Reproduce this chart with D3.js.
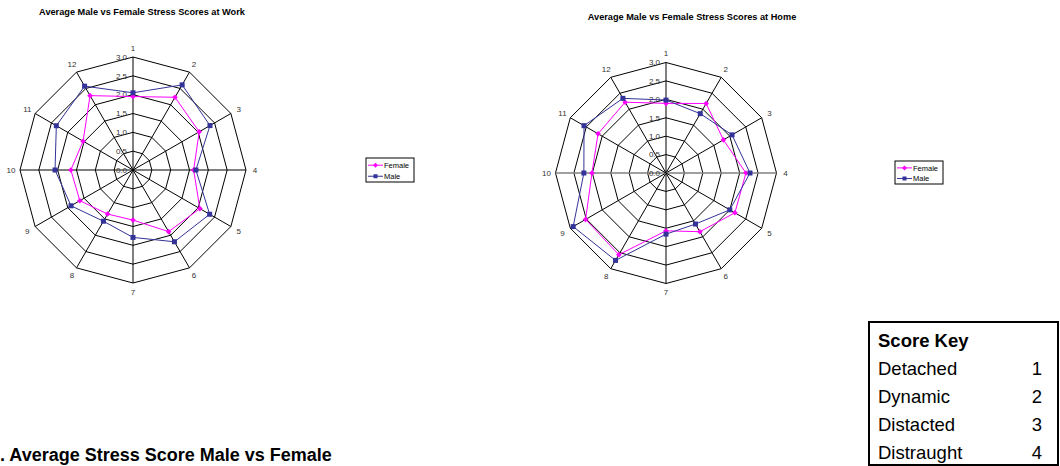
<!DOCTYPE html>
<html>
<head>
<meta charset="utf-8">
<script src="https://cdn.jsdelivr.net/npm/d3@7"></script>
<style>
  html, body { margin: 0; padding: 0; background: #fff; }
  svg { display: block; font-family: "Liberation Sans", Arial, sans-serif; }
</style>
</head>
<body>
<div id="chart"></div>
<script>
const categories = ["1", "2", "3", "4", "5", "6", "7", "8", "9", "10", "11", "12"];
const tickValues = [0, 0.5, 1.0, 1.5, 2.0, 2.5, 3.0];

const workFemale = [1.95, 2.23, 2.03, 1.61, 2.05, 1.89, 1.33, 1.35, 1.63, 1.65, 1.53, 2.28];
const workMale   = [2.05, 2.61, 2.36, 1.67, 2.35, 2.20, 1.79, 1.57, 1.90, 2.07, 2.35, 2.57];

const homeFemale = [1.89, 2.18, 1.80, 2.17, 2.16, 1.84, 1.57, 2.56, 2.52, 2.01, 2.13, 2.22];
const homeMale   = [1.98, 1.86, 2.07, 2.28, 2.00, 1.60, 1.66, 2.74, 2.91, 2.23, 2.57, 2.34];

const seriesNames = ["Female", "Male"];
const seriesColors = ["#ff00ff", "#333399"];

const keyLabels = ["Detached", "Dynamic", "Distacted", "Distraught"];
const keyScores = [1, 2, 3, 4];

const width = 1060, height = 466;

const svg = d3.select("#chart")
  .append("svg")
  .attr("width", width)
  .attr("height", height);

function drawRadar(opts) {
  const { cx, cy, radius, title, titleX, titleY, values, legendX, legendY, legendH, midAxisGrey } = opts;
  const g = svg.append("g");

  const r = d3.scaleLinear().domain([0, 3]).range([0, radius]);
  const angle = d3.scaleLinear().domain([0, categories.length]).range([0, 2 * Math.PI]);

  const pt = (i, v) => [cx + r(v) * Math.sin(angle(i)), cy - r(v) * Math.cos(angle(i))];

  // title
  g.append("text")
    .attr("x", titleX)
    .attr("y", titleY)
    .attr("text-anchor", "middle")
    .attr("font-size", 9.2)
    .attr("font-weight", "bold")
    .attr("fill", "#000")
    .text(title);

  // grid rings
  const ring = d3.lineRadial()
    .angle((d, i) => angle(i))
    .radius(d => r(d))
    .curve(d3.curveLinearClosed);

  g.selectAll(".ring")
    .data(tickValues.slice(1))
    .join("path")
    .attr("transform", `translate(${cx},${cy})`)
    .attr("d", v => ring(categories.map(() => v)))
    .attr("fill", "none")
    .attr("stroke", "#000")
    .attr("stroke-width", 1);

  // spokes
  g.selectAll(".spoke")
    .data(categories)
    .join("line")
    .attr("x1", cx)
    .attr("y1", cy)
    .attr("x2", (d, i) => pt(i, 3)[0])
    .attr("y2", (d, i) => pt(i, 3)[1])
    .attr("stroke", (d, i) => (midAxisGrey && (i === 3 || i === 9)) ? "#808080" : "#000")
    .attr("stroke-width", (d, i) => (midAxisGrey && (i === 3 || i === 9)) ? 1.5 : 1);

  // value tick labels
  g.selectAll(".tick")
    .data(tickValues)
    .join("text")
    .attr("x", cx - 6)
    .attr("y", v => cy - r(v))
    .attr("dy", "0.35em")
    .attr("text-anchor", "end")
    .attr("font-size", 8)
    .attr("fill", "#333")
    .text(v => d3.format(".1f")(v));

  // category labels
  g.selectAll(".cat")
    .data(categories)
    .join("text")
    .attr("x", (d, i) => cx + (radius + 9) * Math.sin(angle(i)))
    .attr("y", (d, i) => cy - (radius + 9) * Math.cos(angle(i)))
    .attr("dy", "0.35em")
    .attr("text-anchor", "middle")
    .attr("font-size", 8)
    .attr("fill", "#333")
    .text(d => d);

  // series
  const line = d3.line().curve(d3.curveLinearClosed);
  values.forEach((vals, s) => {
    const pts = vals.map((v, i) => pt(i, v));
    g.append("path")
      .attr("d", line(pts))
      .attr("fill", "none")
      .attr("stroke", seriesColors[s])
      .attr("stroke-width", 1);

    if (s === 0) {
      g.selectAll(null)
        .data(pts)
        .join("path")
        .attr("d", d => `M${d[0]},${d[1] - 2.8}L${d[0] + 2.8},${d[1]}L${d[0]},${d[1] + 2.8}L${d[0] - 2.8},${d[1]}Z`)
        .attr("fill", seriesColors[s]);
    } else {
      g.selectAll(null)
        .data(pts)
        .join("rect")
        .attr("x", d => d[0] - 2.5)
        .attr("y", d => d[1] - 2.5)
        .attr("width", 5)
        .attr("height", 5)
        .attr("fill", seriesColors[s]);
    }
  });

  // legend
  const lg = g.append("g").attr("transform", `translate(${legendX},${legendY})`);
  lg.append("rect")
    .attr("width", 48)
    .attr("height", legendH)
    .attr("fill", "#fff")
    .attr("stroke", "#000")
    .attr("stroke-width", 1);

  seriesNames.forEach((name, s) => {
    const y = legendH * (s === 0 ? 0.3 : 0.76);
    lg.append("line")
      .attr("x1", 2).attr("x2", 17)
      .attr("y1", y).attr("y2", y)
      .attr("stroke", seriesColors[s]);
    if (s === 0) {
      lg.append("path")
        .attr("d", `M9.5,${y - 2.5}L12,${y}L9.5,${y + 2.5}L7,${y}Z`)
        .attr("fill", seriesColors[s]);
    } else {
      lg.append("rect")
        .attr("x", 7.5).attr("y", y - 2)
        .attr("width", 4).attr("height", 4)
        .attr("fill", seriesColors[s]);
    }
    lg.append("text")
      .attr("x", 18)
      .attr("y", y)
      .attr("dy", "0.35em")
      .attr("font-size", 7.5)
      .attr("fill", "#000")
      .text(name);
  });
}

drawRadar({
  cx: 133, cy: 170, radius: 113,
  title: "Average Male vs Female Stress Scores at Work",
  titleX: 142, titleY: 15,
  values: [workFemale, workMale],
  legendX: 366, legendY: 158, legendH: 24,
  midAxisGrey: false
});

drawRadar({
  cx: 666, cy: 173, radius: 110.5,
  title: "Average Male vs Female Stress Scores at Home",
  titleX: 692, titleY: 20,
  values: [homeFemale, homeMale],
  legendX: 895, legendY: 161, legendH: 23,
  midAxisGrey: true
});

// score key table
const key = svg.append("g");
key.append("rect")
  .attr("x", 869).attr("y", 322)
  .attr("width", 189).attr("height", 143)
  .attr("fill", "none")
  .attr("stroke", "#000")
  .attr("stroke-width", 2);

key.append("text")
  .attr("x", 878).attr("y", 347)
  .attr("font-size", 18.5)
  .attr("font-weight", "bold")
  .text("Score Key");

const rowY = d3.scaleLinear().domain([0, 1]).range([375, 403]);
key.selectAll(".klabel")
  .data(keyLabels)
  .join("text")
  .attr("x", 878)
  .attr("y", (d, i) => rowY(i))
  .attr("font-size", 18.5)
  .text(d => d);

key.selectAll(".kscore")
  .data(keyScores)
  .join("text")
  .attr("x", 1037)
  .attr("y", (d, i) => rowY(i))
  .attr("text-anchor", "middle")
  .attr("font-size", 18.5)
  .text(d => d);

// heading
svg.append("text")
  .attr("x", 0).attr("y", 461)
  .attr("font-size", 18)
  .attr("font-weight", "bold")
  .text(". Average Stress Score Male vs Female");
</script>
</body>
</html>
